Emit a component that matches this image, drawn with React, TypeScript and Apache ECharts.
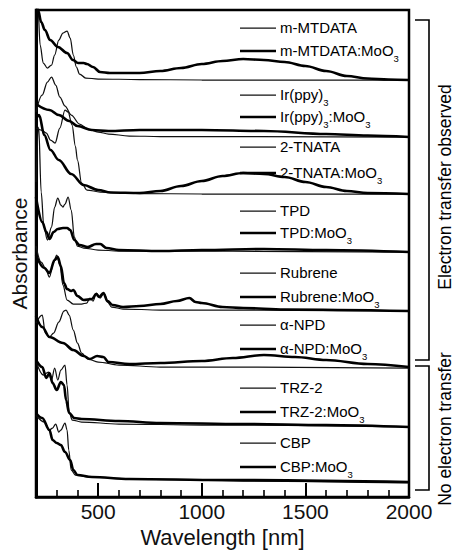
import React, { useEffect, useRef } from "react";
import * as echarts from "echarts";

type Pt = [number, number];

// Spectra: [wavelength (nm), absorbance (a.u., above each trace's own baseline)]
const mMTDATA: Pt[] = [[200, 100], [210, 70], [220, 35], [235, 17], [255, 12], [275, 15], [290, 25], [310, 40], [330, 47], [350, 49], [365, 42], [380, 25], [395, 13], [410, 6], [440, 2], [500, 1], [700, 0.5], [1000, 0], [2000, 0]];
const mMTDATA_MoO3: Pt[] = [[200, 90], [210, 70], [225, 58], [243, 50], [268, 40], [306, 33], [350, 27], [378, 20], [403, 17], [430, 17], [446, 16], [475, 13], [509, 8], [557, 7], [653, 7], [700, 7], [800, 9], [900, 12], [1000, 16], [1100, 19], [1200, 21], [1300, 20], [1400, 18], [1500, 14], [1600, 9], [1700, 4], [1800, 1.5], [1900, 0.5], [2000, 0]];

const irppy3: Pt[] = [[200, 25], [230, 42], [255, 55], [275, 60], [295, 52], [315, 40], [340, 31], [370, 22], [410, 13], [450, 8], [500, 5], [550, 3], [650, 1], [800, 0.5], [2000, 0]];
const irppy3_MoO3: Pt[] = [[200, 33], [265, 27], [310, 22], [360, 16], [400, 11], [470, 7], [550, 6], [700, 7], [1000, 7], [1300, 6], [1600, 3], [1800, 1.5], [2000, 0]];

const tnata: Pt[] = [[200, 66], [225, 64], [250, 61], [270, 54], [292, 51], [315, 66], [340, 84], [355, 82], [374, 69], [390, 48], [400, 34], [420, 11], [446, 4], [510, 2], [700, 0.5], [1000, 0], [2000, 0]];
const tnata_MoO3: Pt[] = [[200, 74], [215, 79], [240, 59], [270, 44], [310, 34], [370, 20], [430, 9], [500, 4], [560, 1.5], [700, 1], [800, 3], [900, 8], [1000, 13], [1100, 18], [1200, 21], [1300, 20], [1400, 17], [1500, 12], [1600, 7], [1700, 3], [1800, 1], [2000, 0]];

const tpd: Pt[] = [[200, 70], [213, 125], [225, 60], [238, 25], [255, 12], [275, 25], [290, 45], [305, 54], [320, 47], [330, 45], [340, 48], [355, 55], [370, 42], [385, 15], [400, 6], [430, 4], [500, 2], [600, 1], [2000, 0]];
const tpd_MoO3: Pt[] = [[200, 55], [230, 30], [250, 20], [265, 13], [285, 20], [305, 23], [330, 24], [350, 24], [365, 22], [385, 12], [410, 7], [450, 5], [490, 8], [510, 8], [540, 4], [600, 2], [800, 1], [1000, 2], [1300, 3], [1600, 2], [2000, 0]];

const rubrene: Pt[] = [[200, 65], [225, 49], [245, 43], [265, 34], [285, 49], [300, 56], [315, 46], [330, 26], [350, 11], [380, 7], [420, 7], [445, 8], [460, 13], [475, 10], [492, 18], [510, 13], [528, 18], [545, 9], [565, 4], [620, 2], [800, 1], [2000, 0]];
const rubrene_MoO3: Pt[] = [[200, 56], [240, 43], [265, 38], [290, 51], [305, 54], [320, 45], [335, 28], [350, 22], [370, 20], [380, 21], [400, 15], [430, 11], [470, 12], [490, 17], [505, 14], [525, 18], [545, 10], [570, 6], [620, 4], [700, 5], [800, 7], [880, 10], [940, 13], [970, 9], [1000, 8], [1100, 4], [1200, 3], [1400, 1.5], [2000, 0]];

const aNPD: Pt[] = [[200, 45], [230, 53], [245, 35], [265, 31], [285, 35], [310, 46], [335, 57], [345, 58], [360, 53], [380, 38], [400, 25], [420, 15], [450, 9], [500, 6], [600, 3], [800, 1], [2000, 0]];
const aNPD_MoO3: Pt[] = [[200, 52], [230, 41], [265, 31], [330, 25], [380, 18], [430, 12], [460, 9], [495, 12], [525, 11], [550, 6], [650, 4], [800, 5], [1000, 7], [1150, 10], [1300, 13], [1450, 11], [1600, 8], [1800, 4], [2000, 1]];

const trz2: Pt[] = [[200, 66], [235, 52], [260, 55], [275, 47], [290, 59], [305, 47], [320, 57], [340, 62], [350, 42], [360, 15], [375, 7], [420, 5], [600, 3], [1000, 2], [2000, 0]];
const trz2_MoO3: Pt[] = [[200, 67], [230, 60], [250, 49], [265, 54], [280, 44], [300, 37], [320, 45], [335, 42], [345, 27], [360, 14], [385, 9], [420, 8], [600, 6], [800, 4], [1200, 3], [1600, 2], [2000, 0]];

const cbp: Pt[] = [[200, 68], [240, 61], [265, 53], [280, 55], [295, 59], [310, 51], [320, 53], [340, 60], [350, 53], [358, 33], [370, 13], [390, 8], [450, 6], [700, 4], [1200, 2], [2000, 0]];
const cbp_MoO3: Pt[] = [[200, 70], [230, 65], [265, 53], [280, 43], [300, 40], [320, 38], [340, 31], [365, 23], [380, 13], [400, 8], [470, 6], [650, 4], [1100, 3], [2000, 1]];

// Material names ("_3" marks a subscript 3)
const materials = ["m-MTDATA", "Ir(ppy)_3", "2-TNATA", "TPD", "Rubrene", "\u03b1-NPD", "TRZ-2", "CBP"];
const dopant = ":MoO_3";
const neatSpectra = [mMTDATA, irppy3, tnata, tpd, rubrene, aNPD, trz2, cbp];
const dopedSpectra = [mMTDATA_MoO3, irppy3_MoO3, tnata_MoO3, tpd_MoO3, rubrene_MoO3, aNPD_MoO3, trz2_MoO3, cbp_MoO3];
// Vertical offset of each pair of traces
const stackOffsets = [417, 360, 303, 245, 186, 129, 70, 14];

const majorTicks = [500, 1000, 1500, 2000];
const minorTicks = [300, 400, 600, 700, 800, 900, 1100, 1200, 1300, 1400, 1600, 1700, 1800, 1900];

// Layout of the in-plot key (pixel rows of neat / doped entries)
const keyRows: [number, number][] = [[28, 51], [95, 117], [147, 173], [211, 233], [273, 297], [325, 349], [388, 412], [443, 467]];

const FONT = "'Liberation Sans', Arial, Helvetica, sans-serif";

function toRich(label: string): string {
  return label
    .split(/(_3)/)
    .filter((p) => p.length > 0)
    .map((p) => (p === "_3" ? "{s|3}" : `{m|${p}}`))
    .join("");
}

export default function App() {
  const ref = useRef<HTMLDivElement>(null);

  useEffect(() => {
    if (!ref.current) return;
    const chart = echarts.init(ref.current, undefined, { renderer: "svg" });

    const series: any[] = [];
    materials.forEach((name, i) => {
      const off = stackOffsets[i];
      series.push({
        name: name.replace("_3", "3"),
        type: "line",
        data: neatSpectra[i].map(([x, y]) => [x, y + off]),
        symbol: "none",
        smooth: 0.35,
        smoothMonotone: "x",
        silent: true,
        lineStyle: { color: "#111", width: 1.25 },
        z: 3,
      });
      series.push({
        name: (name + dopant).replace(/_3/g, "3"),
        type: "line",
        data: dopedSpectra[i].map(([x, y]) => [x, y + off]),
        symbol: "none",
        smooth: 0.35,
        smoothMonotone: "x",
        silent: true,
        lineStyle: { color: "#000", width: 2.6 },
        z: 4,
      });
    });

    const rich = {
      m: { fontSize: 15, lineHeight: 16, verticalAlign: "top", fontFamily: FONT, color: "#111" },
      s: { fontSize: 9.5, lineHeight: 10, verticalAlign: "top", padding: [10, 0, 0, 0], fontFamily: FONT, color: "#111" },
    };

    const graphic: any[] = [];
    materials.forEach((name, i) => {
      const [yNeat, yDoped] = keyRows[i];
      graphic.push({ type: "line", shape: { x1: 240, y1: yNeat, x2: 276, y2: yNeat }, style: { stroke: "#111", lineWidth: 1.25 }, silent: true });
      graphic.push({ type: "line", shape: { x1: 240, y1: yDoped, x2: 276, y2: yDoped }, style: { stroke: "#000", lineWidth: 2.6 }, silent: true });
      graphic.push({ type: "text", x: 280, y: yNeat - 8, style: { text: toRich(name), rich, align: "left", verticalAlign: "top", textAlign: "left", textVerticalAlign: "top" }, silent: true });
      graphic.push({ type: "text", x: 280, y: yDoped - 8, style: { text: toRich(name + dopant), rich, align: "left", verticalAlign: "top", textAlign: "left", textVerticalAlign: "top" }, silent: true });
    });

    // Group brackets on the right
    graphic.push({ type: "polyline", shape: { points: [[415, 20], [429, 20], [429, 360], [415, 360]] }, style: { stroke: "#000", lineWidth: 1.6, fill: null }, silent: true });
    graphic.push({ type: "polyline", shape: { points: [[415, 366], [429, 366], [429, 490], [415, 490]] }, style: { stroke: "#000", lineWidth: 1.6, fill: null }, silent: true });
    graphic.push({ type: "text", x: 445, y: 187, rotation: Math.PI / 2, style: { text: "Electron transfer observed", fontSize: 17.5, fontFamily: FONT, fill: "#000", align: "center", verticalAlign: "middle", textAlign: "center", textVerticalAlign: "middle" }, silent: true });
    graphic.push({ type: "text", x: 445, y: 429, rotation: Math.PI / 2, style: { text: "No electron transfer", fontSize: 17.5, fontFamily: FONT, fill: "#000", align: "center", verticalAlign: "middle", textAlign: "center", textVerticalAlign: "middle" }, silent: true });

    chart.setOption({
      animation: false,
      backgroundColor: "#fff",
      grid: { left: 36, right: 50, top: 10, bottom: 63, show: true, borderColor: "#000", borderWidth: 2.5, backgroundColor: "transparent" },
      xAxis: [
        {
          type: "value",
          min: 200,
          max: 2000,
          name: "Wavelength [nm]",
          nameLocation: "middle",
          nameGap: 23,
          nameTextStyle: { fontSize: 22, fontFamily: FONT, color: "#111" },
          axisLine: { show: true, lineStyle: { color: "#000", width: 2.5 } },
          axisTick: { show: true, inside: true, length: 7, customValues: minorTicks, lineStyle: { color: "#000", width: 1.6 } },
          axisLabel: { show: true, customValues: majorTicks, fontSize: 21, fontFamily: FONT, color: "#111", margin: 4, formatter: (v: number) => String(v) },
          splitLine: { show: false },
        },
        {
          type: "value",
          min: 200,
          max: 2000,
          position: "bottom",
          axisLine: { show: false },
          axisTick: { show: true, inside: true, length: 14, customValues: majorTicks.slice(0, 3), lineStyle: { color: "#000", width: 2 } },
          axisLabel: { show: false },
          splitLine: { show: false },
        },
      ],
      yAxis: {
        type: "value",
        min: 0,
        max: 487,
        name: "Absorbance",
        nameLocation: "middle",
        nameGap: 6,
        nameTextStyle: { fontSize: 21, fontFamily: FONT, color: "#111" },
        axisLine: { show: true, lineStyle: { color: "#000", width: 3 } },
        axisTick: { show: false },
        axisLabel: { show: false },
        splitLine: { show: false },
      },
      series,
      graphic,
    });

    return () => chart.dispose();
  }, []);

  return <div ref={ref} style={{ position: "fixed", left: 0, top: 0, width: 459, height: 560, background: "#fff" }} />;
}
